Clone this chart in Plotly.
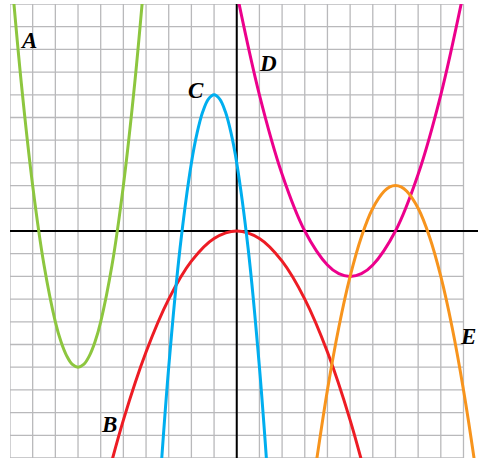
import plotly.graph_objects as go

# points (grid units), joined with a spline
a_x = [-10, -9.5, -9, -8.5, -8, -7.75, -7.5, -7.25, -7, -6.75, -6.5, -6.25, -6, -5.5, -5, -4.5, -4]
a_y = [12, 6.5, 2, -1.5, -4, -4.88, -5.5, -5.88, -6, -5.88, -5.5, -4.88, -4, -1.5, 2, 6.5, 12]

b_x = [-6, -5, -4, -3, -2, -1, 0, 1, 2, 3, 4, 5, 6]
b_y = [-12, -8.33, -5.33, -3, -1.33, -0.33, 0, -0.33, -1.33, -3, -5.33, -8.33, -12]

c_x = [-3.5, -3, -2.5, -2, -1.75, -1.5, -1.25, -1, -0.75, -0.5, -0.25, 0, 0.5, 1, 1.5]
c_y = [-12.75, -6, -0.75, 3, 4.31, 5.25, 5.81, 6, 5.81, 5.25, 4.31, 3, -0.75, -6, -12.75]

d_x = [-0.5, 0, 1, 2, 3, 4, 4.5, 5, 5.5, 6, 7, 8, 9, 10, 10.5]
d_y = [13.1, 10.5, 6, 2.5, 0, -1.5, -1.88, -2, -1.88, -1.5, 0, 2.5, 6, 10.5, 13.1]

e_x = [3.5, 4, 4.5, 5, 5.5, 6, 6.5, 6.75, 7, 7.25, 7.5, 8, 8.5, 9, 9.5, 10, 10.5, 11]
e_y = [-10.25, -7, -4.25, -2, -0.25, 1, 1.75, 1.94, 2, 1.94, 1.75, 1, -0.25, -2, -4.25, -7, -10.25, -14]

names = ["A", "B", "C", "D", "E"]
label_x = [-9.17, -5.64, -1.81, 1.38, 10.22]
label_y = [8.41, -8.53, 6.21, 7.4, -4.64]

colors = {"A": "#8dc63f", "B": "#ed1c24", "C": "#00aeef", "D": "#ec008c", "E": "#f7941d"}
curves = {"A": (a_x, a_y), "B": (b_x, b_y), "C": (c_x, c_y), "D": (d_x, d_y), "E": (e_x, e_y)}

fig = go.Figure()

# grid stops at x = 10, the curves can go past it
shapes = []
for k in range(-10, 11):
    shapes.append(dict(type="line", x0=k, x1=k, y0=-10, y1=10, layer="below",
                       line=dict(color="#b9b9bb", width=1.3)))
    shapes.append(dict(type="line", x0=-10, x1=10, y0=k, y1=k, layer="below",
                       line=dict(color="#b9b9bb", width=1.3)))
shapes.append(dict(type="line", x0=-10, x1=10.7, y0=0, y1=0, layer="below",
                   line=dict(color="black", width=2)))
shapes.append(dict(type="line", x0=0, x1=0, y0=-10, y1=10.3, layer="below",
                   line=dict(color="black", width=2)))

for n in names:
    xs, ys = curves[n]
    fig.add_trace(go.Scatter(x=xs, y=ys, mode="lines", line_shape="spline",
                             line=dict(color=colors[n], width=3),
                             hoverinfo="skip", showlegend=False))

for n, lx, ly in zip(names, label_x, label_y):
    fig.add_annotation(x=lx, y=ly, text="<b><i>%s</i></b>" % n, showarrow=False,
                       font=dict(family="Liberation Serif", size=23, color="black"))

fig.update_layout(
    width=478, height=459,
    margin=dict(l=10, r=0, t=4, b=1),
    paper_bgcolor="white", plot_bgcolor="white",
    shapes=shapes,
    xaxis=dict(range=[-10, 10.64], showgrid=False, zeroline=False, showticklabels=False,
               ticks="", fixedrange=True),
    yaxis=dict(range=[-10, 10], showgrid=False, zeroline=False, showticklabels=False,
               ticks="", fixedrange=True),
)

fig.write_html("out.html", config={"displayModeBar": False},
               post_script="document.body.style.margin='0';")
